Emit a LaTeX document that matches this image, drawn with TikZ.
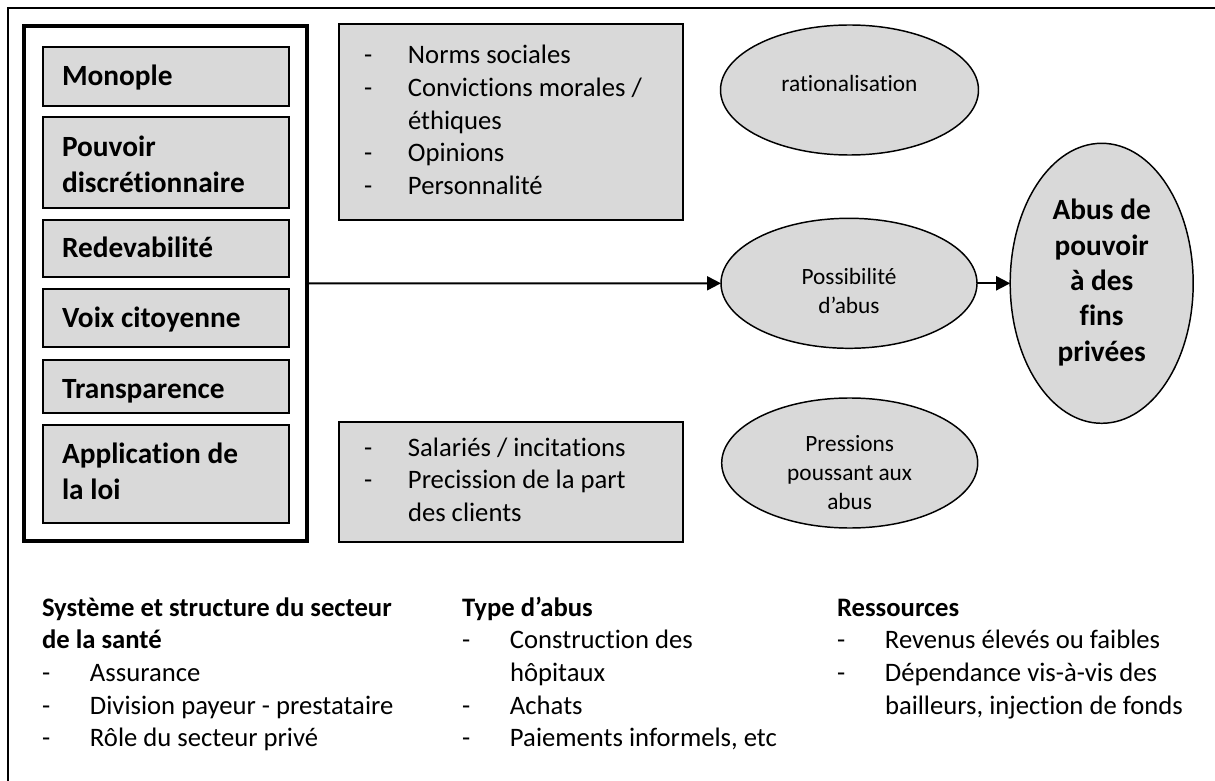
\documentclass[tikz,border=0pt]{standalone}
\usepackage{fontspec}
\setmainfont{Carlito}[Ligatures={NoCommon}]
\usetikzlibrary{arrows.meta,shapes.geometric}
\definecolor{boxgray}{HTML}{D9D9D9}
\newcommand\bigbold{\fontsize{22}{27}\selectfont\bfseries}
\newcommand\bodytext{\fontsize{20}{24.5}\selectfont}
\newcommand\smalltext{\fontsize{17.5}{21.75}\selectfont}
% two-column list: dash, then item text
\newcommand\itemlist[2]{\begin{tabular}[t]{@{}p{#1}@{}l@{}}#2\end{tabular}}
\newcommand\lines[1]{\begin{tabular}[t]{@{}l@{}}#1\end{tabular}}
\newcommand\clines[1]{\begin{tabular}[t]{@{}c@{}}#1\end{tabular}}
\newcommand\head[1]{\multicolumn{2}{@{}l@{}}{\bfseries #1}}
\begin{document}
\begin{tikzpicture}[x=0.75pt,y=-0.75pt,
  every node/.style={inner sep=0pt,outer sep=0pt},
  gbox/.style={rectangle,draw=black,line width=1pt,fill=boxgray,anchor=north west},
  sysframe/.style={rectangle,draw=black,line width=3pt,anchor=north west},
  oval/.style={ellipse,draw=black,line width=1.1pt,fill=boxgray},
  boldtext/.style={anchor=base west,font=\bigbold},
  listtext/.style={anchor=base west,font=\bodytext},
  ovaltext/.style={anchor=base,font=\smalltext},
  conn/.style={line width=1.5pt,-{Triangle[length=10.5pt,width=10.5pt]}},
  border/.style={line width=1.5pt}]
\useasboundingbox (0,0) rectangle (1215,781);

% page border (top and left only)
\coordinate (pgbl) at (7.5,781);
\coordinate (pgtl) at (7.5,8.5);
\coordinate (pgtr) at (1215,8.5);
\draw[border] (pgbl) -- (pgtl) -- (pgtr);

% system frame with its six factors
\node[sysframe,minimum width=212.6pt,minimum height=386.25pt] (sys) at (24,26) {};
\node[gbox,minimum width=184.5pt,minimum height=44.25pt] (f1) at (43,47) {};
\node[gbox,minimum width=184.5pt,minimum height=68.25pt] (f2) at (43,117) {};
\node[gbox,minimum width=184.5pt,minimum height=42.75pt] (f3) at (43,220) {};
\node[gbox,minimum width=184.5pt,minimum height=43.5pt] (f4) at (43,289) {};
\node[gbox,minimum width=184.5pt,minimum height=39.75pt] (f5) at (43,360) {};
\node[gbox,minimum width=184.5pt,minimum height=73.5pt] (f6) at (43,425) {};
\node[boldtext] (f1t) at (62,86) {Monople};
\node[boldtext] (f2t) at (62,157) {\lines{Pouvoir\\discrétionnaire}};
\node[boldtext] (f3t) at (62,258) {Redevabilité};
\node[boldtext] (f4t) at (62,327) {Voix citoyenne};
\node[boldtext] (f5t) at (62,398) {Transparence};
\node[boldtext] (f6t) at (62,463) {\lines{Application de\\la loi}};

% gray text boxes
\node[gbox,minimum width=258pt,minimum height=147pt] (norms) at (339,24) {};
\node[listtext] (normst) at (364,64) {\itemlist{33pt}{%
  - & Norms sociales\\
  - & Convictions morales /\\
    & éthiques\\
  - & Opinions\\
  - & Personnalité}};
\node[gbox,minimum width=258pt,minimum height=90pt] (press) at (339,422) {};
\node[listtext] (presst) at (364,456) {\itemlist{33pt}{%
  - & Salariés / incitations\\
  - & Precission de la part\\
    & des clients}};

% ovals
\node[oval,minimum width=193.5pt,minimum height=97.5pt] (rat) at (849.5,90) {};
\node[oval,minimum width=192pt,minimum height=97.5pt] (poss) at (849,283.3) {};
\node[oval,minimum width=192pt,minimum height=97.5pt] (pres) at (849.7,463) {};
\node[oval,minimum width=137.25pt,minimum height=210pt] (abus) at (1101.7,283.3) {};
\node[ovaltext] (ratt) at (849.5,91.5) {rationalisation};
\node[ovaltext] (posst) at (849,285) {\clines{Possibilité\\d’abus}};
\node[ovaltext] (prest) at (849.7,451.7) {\clines{Pressions\\poussant aux\\abus}};
\node[anchor=base,font=\fontsize{22}{26.5}\selectfont\bfseries] (abust) at (1101.7,220)
  {\clines{Abus de\\pouvoir\\à des\\fins\\privées}};

% connectors
\draw[conn] (sys.east) -- (poss.west);
\draw[conn] (poss.east) -- (abus.west);

% lists along the bottom
\node[listtext] (colA) at (42,616) {\itemlist{36pt}{%
  \head{Système et structure du secteur}\\
  \head{de la santé}\\
  - & Assurance\\
  - & Division payeur - prestataire\\
  - & Rôle du secteur privé}};
\node[listtext] (colB) at (462,616) {\itemlist{36pt}{%
  \head{Type d’abus}\\
  - & Construction des\\
    & hôpitaux\\
  - & Achats\\
  - & Paiements informels, etc}};
\node[listtext] (colC) at (837,616) {\itemlist{36pt}{%
  \head{Ressources}\\
  - & Revenus élevés ou faibles\\
  - & Dépendance vis-à-vis des\\
    & bailleurs, injection de fonds}};
\end{tikzpicture}
\end{document}
